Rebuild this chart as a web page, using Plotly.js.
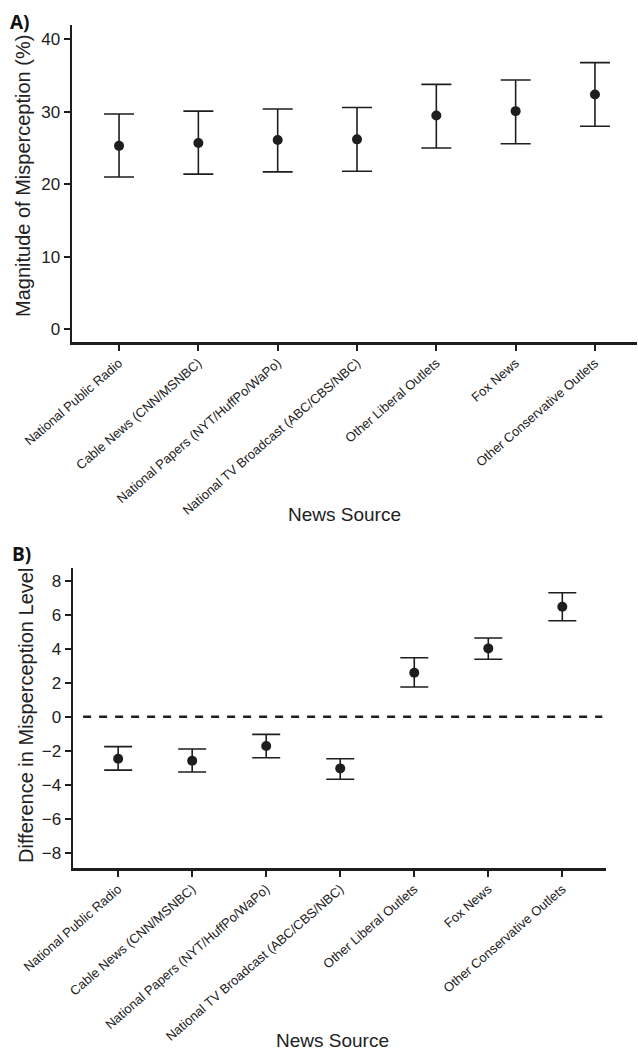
<!DOCTYPE html>
<html><head><meta charset="utf-8">
<script src="https://cdn.plot.ly/plotly-3.0.1.min.js"></script>
<style>body{margin:0;background:#fff}#chart{width:638px;height:1052px}</style>
</head><body><div id="chart"></div>
<script>
const categories = ["National Public Radio","Cable News (CNN/MSNBC)","National Papers (NYT/HuffPo/WaPo)","National TV Broadcast (ABC/CBS/NBC)","Other Liberal Outlets","Fox News","Other Conservative Outlets"];
const magnitude = [25.3,25.7,26.1,26.2,29.5,30.1,32.4];
const magnitudeLow = [21.0,21.4,21.7,21.8,25.0,25.6,28.0];
const magnitudeHigh = [29.7,30.1,30.4,30.6,33.8,34.4,36.8];
const difference = [-2.47,-2.59,-1.72,-3.04,2.59,4.02,6.47];
const differenceLow = [-3.14,-3.25,-2.41,-3.68,1.75,3.38,5.65];
const differenceHigh = [-1.76,-1.90,-1.04,-2.47,3.47,4.63,7.29];
const yTicksA = [0,10,20,30,40];
const yTicksB = [-8,-6,-4,-2,0,2,4,6,8];

const W = 638, H = 1052;
const px = v => v / W;
const py = v => 1 - v / H;
const ink = '#1e1e1e';
const txt = '#222222';
const fam = 'Liberation Sans, Arial, sans-serif';

function trace(vals, lo, hi, xa, ya, capw) {
  return {
    type: 'scatter', mode: 'markers',
    x: categories, y: vals, xaxis: xa, yaxis: ya,
    marker: {size: 10, color: ink},
    error_y: {type: 'data', symmetric: false,
      array: hi.map((h, i) => h - vals[i]),
      arrayminus: lo.map((l, i) => vals[i] - l),
      width: capw, thickness: 1.6, color: ink},
    showlegend: false, hoverinfo: 'skip'
  };
}

const xCommon = {
  type: 'category', showline: true, linewidth: 2.5, linecolor: ink,
  ticks: 'outside', ticklen: 6, tickwidth: 2, tickcolor: ink,
  tickangle: -41, tickfont: {family: fam, size: 13, color: txt},
  showgrid: false, zeroline: false, fixedrange: true
};
const yCommon = {
  showline: true, linewidth: 2.5, linecolor: ink,
  ticks: 'outside', ticklen: 6, tickwidth: 2, tickcolor: ink,
  tickfont: {family: fam, size: 17, color: txt},
  showgrid: false, zeroline: false, fixedrange: true
};

function ann(text, x, y, size, extra) {
  return Object.assign({text: text, xref: 'paper', yref: 'paper', x: px(x), y: py(y),
    xanchor: 'center', yanchor: 'middle', showarrow: false,
    font: {family: fam, size: size, color: txt}}, extra || {});
}

const layout = {
  width: W, height: H, margin: {l: 0, r: 0, t: 0, b: 0},
  paper_bgcolor: '#fff', plot_bgcolor: '#fff',
  xaxis: Object.assign({}, xCommon, {domain: [px(72), px(637)], range: [-0.593, 6.53], anchor: 'y'}),
  yaxis: Object.assign({}, yCommon, {domain: [py(342), py(25)], range: [-1.8, 42], tickvals: yTicksA, anchor: 'x'}),
  xaxis2: Object.assign({}, xCommon, {domain: [px(73), px(606)], range: [-0.61, 6.59], anchor: 'y2'}),
  yaxis2: Object.assign({}, yCommon, {domain: [py(868), py(568)], range: [-8.9, 8.75], tickvals: yTicksB, anchor: 'x2'}),
  shapes: [{type: 'line', xref: 'x2 domain', yref: 'y2', x0: 0.019, x1: 0.993, y0: 0, y1: 0,
    line: {color: ink, width: 2.5, dash: '8px,8px'}}],
  annotations: [
    ann('<b>A)</b>', 20, 22, 19, {font: {family: 'Open Sans, sans-serif', size: 19, color: '#111'}}),
    ann('<b>B)</b>', 21, 554, 19, {font: {family: 'Open Sans, sans-serif', size: 19, color: '#111'}}),
    ann('Magnitude of Misperception (%)', 23, 176, 20, {textangle: -90}),
    ann('Difference in Misperception Level', 26, 716, 20, {textangle: -90}),
    ann('News Source', 344, 514, 19),
    ann('News Source', 332, 1040, 19)
  ]
};

Plotly.newPlot('chart', [
  trace(magnitude, magnitudeLow, magnitudeHigh, 'x', 'y', 15),
  trace(difference, differenceLow, differenceHigh, 'x2', 'y2', 14)
], layout, {staticPlot: true, displayModeBar: false});
</script></body></html>
